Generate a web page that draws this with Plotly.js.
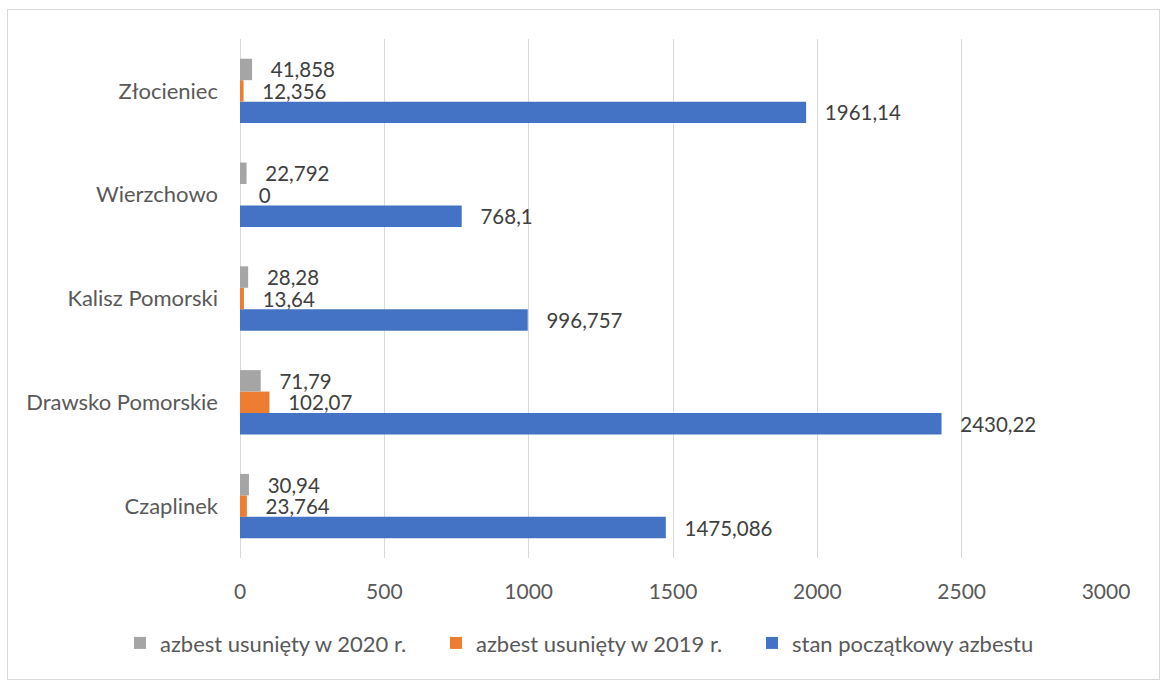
<!DOCTYPE html>
<html>
<head>
<meta charset="utf-8">
<script src="https://cdn.plot.ly/plotly-3.0.1.min.js"></script>
<style>
  html, body { margin: 0; padding: 0; background: #fff; }
  #wrap { position: relative; width: 1160px; height: 681px; }
  #chart { width: 1160px; height: 681px; }
  #frame { position: absolute; left: 7px; top: 9px; width: 1151px; height: 669px; border: 1px solid #d9d9d9; pointer-events: none; }
</style>
</head>
<body>
<div id="wrap">
  <div id="chart"></div>
  <div id="frame"></div>
</div>
<script>
const categories = ["Czaplinek", "Drawsko Pomorskie", "Kalisz Pomorski", "Wierzchowo", "Złocieniec"];
const stanPoczatkowy = [1475.086, 2430.22, 996.757, 768.1, 1961.14];
const usuniety2019 = [23.764, 102.07, 13.64, 0, 12.356];
const usuniety2020 = [30.94, 71.79, 28.28, 22.792, 41.858];
const seriesNames = ["stan początkowy azbestu", "azbest usunięty w 2019 r.", "azbest usunięty w 2020 r."];
const seriesColors = ["#4472C4", "#ED7D31", "#A5A5A5"];
const xTicks = [0, 500, 1000, 1500, 2000, 2500, 3000];

const fmt = v => "\u00a0\u00a0\u00a0" + String(v).replace(".", ",");
const seriesValues = [stanPoczatkowy, usuniety2019, usuniety2020];
const FONT = "Lato, 'Open Sans', sans-serif";

const traces = seriesValues.map((vals, i) => ({
  type: "bar",
  orientation: "h",
  name: seriesNames[i],
  y: categories,
  x: vals,
  text: vals.map(fmt),
  textposition: "outside",
  constraintext: "none",
  cliponaxis: false,
  textfont: { family: FONT, size: 20.5, color: "#404040" },
  marker: { color: seriesColors[i] },
  hoverinfo: "none"
}));

const layout = {
  width: 1160,
  height: 681,
  margin: { l: 240, r: 54, t: 39, b: 123 },
  paper_bgcolor: "#ffffff",
  plot_bgcolor: "#ffffff",
  barmode: "group",
  bargap: 0.38,
  bargroupgap: 0,
  showlegend: true,
  font: { family: FONT, color: "#595959" },
  xaxis: {
    range: [0, 3000],
    tickvals: xTicks,
    ticktext: xTicks.map(String),
    showgrid: true,
    gridcolor: "#d9d9d9",
    gridwidth: 1,
    zeroline: true,
    zerolinecolor: "#d9d9d9",
    zerolinewidth: 1,
    showline: false,
    ticks: "",
    ticklabelstandoff: 19,
    tickfont: { family: FONT, size: 21, color: "#595959" },
    fixedrange: true
  },
  yaxis: {
    type: "category",
    categoryorder: "array",
    categoryarray: categories,
    showgrid: false,
    zeroline: false,
    showline: false,
    ticks: "",
    ticklabelstandoff: 21,
    tickfont: { family: FONT, size: 22, color: "#595959" },
    fixedrange: true
  },
  legend: {
    orientation: "h",
    traceorder: "reversed",
    x: -0.1386,
    xanchor: "left",
    y: -0.164,
    yanchor: "middle",
    entrywidth: 271,
    entrywidthmode: "pixels",
    font: { family: FONT, size: 22, color: "#595959" },
    itemclick: false,
    itemdoubleclick: false
  }
};

Plotly.newPlot("chart", traces, layout, { displayModeBar: false, staticPlot: true });
</script>
</body>
</html>
